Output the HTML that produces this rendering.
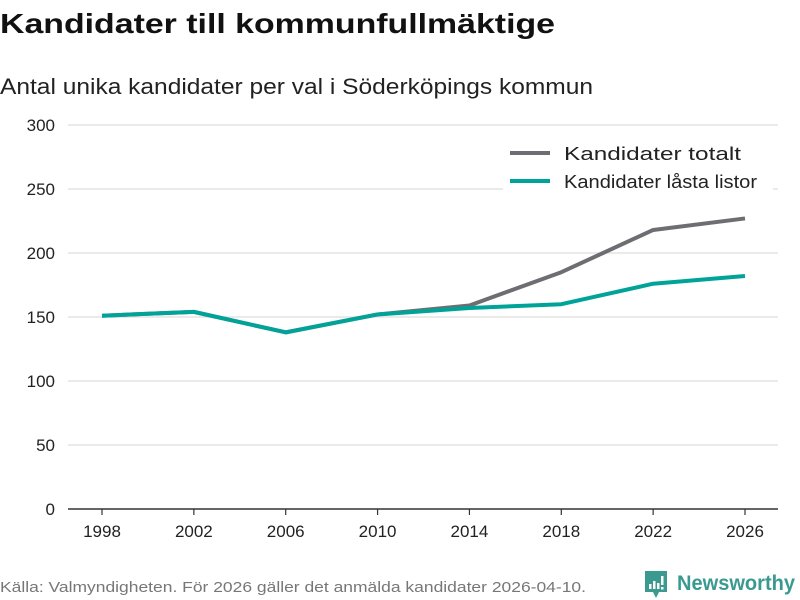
<!DOCTYPE html>
<html><head><meta charset="utf-8"><style>
body{margin:0;background:#fff;}
svg{display:block;font-family:"Liberation Sans","DejaVu Sans",sans-serif;}
</style></head><body>
<svg id="chart" width="800" height="600">
<text x="0" y="33" font-size="28" font-weight="bold" fill="#111" textLength="555" lengthAdjust="spacingAndGlyphs">Kandidater till kommunfullmäktige</text>
<text x="0" y="94" font-size="22" fill="#222" textLength="593" lengthAdjust="spacingAndGlyphs">Antal unika kandidater per val i Söderköpings kommun</text>
<g id="grid"></g><g id="yticks"></g><g id="xticks"></g><g id="lines"></g>
<g>
<rect x="503" y="138" width="270" height="62" fill="#fff"/>
<line x1="510" y1="153" x2="550" y2="153" stroke="#6e6d72" stroke-width="4"/>
<text x="564" y="160" font-size="18" fill="#222" textLength="177" lengthAdjust="spacingAndGlyphs">Kandidater totalt</text>
<line x1="510" y1="181" x2="550" y2="181" stroke="#00a398" stroke-width="4"/>
<text x="564" y="188" font-size="18" fill="#222" textLength="193" lengthAdjust="spacingAndGlyphs">Kandidater låsta listor</text>
</g>
<text x="0" y="592" font-size="15" fill="#777" textLength="586" lengthAdjust="spacingAndGlyphs">Källa: Valmyndigheten. För 2026 gäller det anmälda kandidater 2026-04-10.</text>
<g>
<path d="M645 571 h22 v21 h-8 l-3 6 l-3 -6 h-8 z" fill="#3a9a90"/>
<rect x="649" y="584" width="2.5" height="5" fill="#fff"/><rect x="653" y="581" width="2.5" height="8" fill="#fff"/><rect x="657" y="583" width="2.5" height="6" fill="#fff"/><rect x="661" y="576" width="2.5" height="9" fill="#fff"/><rect x="661" y="587" width="2.5" height="2.5" fill="#fff"/>
<text x="677" y="590" font-size="21" font-weight="bold" fill="#3a9a90" textLength="118" lengthAdjust="spacingAndGlyphs">Newsworthy</text>
</g>
</svg>
<script>
const years=[1998,2002,2006,2010,2014,2018,2022,2026];
const totalt=[151,154,138,152,159,185,218,227];
const lasta=[151,154,138,152,157,160,176,182];
const yTicks=[0,50,100,150,200,250,300];
const NS="http://www.w3.org/2000/svg";
const x=v=>102+(v-1998)*(745-102)/28;
const y=v=>509-v*(384/300);
function mk(t,a,p){const e=document.createElementNS(NS,t);for(const k in a)e.setAttribute(k,a[k]);p.appendChild(e);return e;}
const grid=document.getElementById('grid'),yt=document.getElementById('yticks'),xt=document.getElementById('xticks'),ln=document.getElementById('lines');
yTicks.forEach(v=>{
 const l=mk('line',{x1:68,x2:778,y1:y(v),y2:y(v),stroke:v===0?'#333':'#ddd','stroke-width':v===0?1.5:1.2},grid);
 
 
 const t=mk('text',{x:55,y:y(v)+6,'font-size':17,fill:'#222','text-anchor':'end'},yt);t.textContent=v;
 
 
});
years.forEach(v=>{
 const l=mk('line',{x1:x(v),x2:x(v),y1:509,y2:515,stroke:'#333','stroke-width':1.2},xt);
 
 
 const t=mk('text',{x:x(v),y:537,'font-size':17,fill:'#222','text-anchor':'middle'},xt);t.textContent=v;
 
 
});
function line(vals,col,name){
 const p=mk('polyline',{points:vals.map((v,i)=>x(years[i])+','+y(v)).join(' '),fill:'none',stroke:col,'stroke-width':4,'stroke-linejoin':'round'},ln);
 
 
}
line(totalt,'#6e6d72','line-kandidater-totalt');
line(lasta,'#00a398','line-kandidater-lasta-listor');
</script>
</body></html>
